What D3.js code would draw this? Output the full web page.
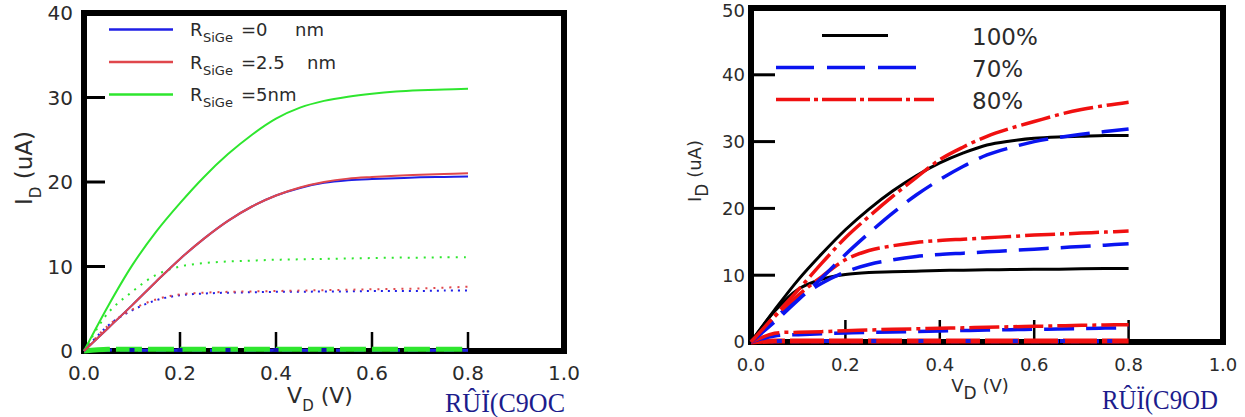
<!DOCTYPE html>
<html>
<head>
<meta charset="utf-8">
<script src="https://cdn.jsdelivr.net/npm/d3@7"></script>
<style>
  body { margin: 0; background: #fff; }
  svg { display: block; font-family: "DejaVu Sans", sans-serif; }
</style>
</head>
<body>
<div class="container"></div>
<script>
// drain voltage grid (V)
const vd = [0, 0.05, 0.1, 0.15, 0.2, 0.25, 0.3, 0.35, 0.4, 0.45, 0.5, 0.55, 0.6, 0.65, 0.7, 0.75, 0.8];
const xTicks = [0.0, 0.2, 0.4, 0.6, 0.8, 1.0];

// left panel: R_SiGe sweep (uA)
const leftLegend = [
  { name: "=0", unit: "nm", color: "#1f1fe6" },
  { name: "=2.5", unit: "nm", color: "#e0474c" },
  { name: "=5nm", unit: "", color: "#2ee62e" },
];
const blueSolid = [0, 2.7, 5.4, 8.2, 10.9, 13.3, 15.4, 17.1, 18.4, 19.3, 19.9, 20.2, 20.35, 20.45, 20.55, 20.6, 20.65];
const redSolid = [0, 2.7, 5.4, 8.2, 10.9, 13.3, 15.4, 17.1, 18.4, 19.35, 20.0, 20.4, 20.6, 20.75, 20.85, 20.95, 21.05];
const greenSolid = [0, 5.3, 10.1, 14.1, 17.5, 20.6, 23.3, 25.6, 27.5, 28.8, 29.6, 30.1, 30.45, 30.7, 30.85, 30.95, 31.05];
const greenDot = [0, 4.5, 7.0, 9.0, 10.0, 10.4, 10.6, 10.7, 10.8, 10.85, 10.9, 10.95, 11.0, 11.05, 11.05, 11.1, 11.1];
const blueDot = [0, 3.0, 4.8, 6.0, 6.6, 6.8, 6.9, 6.95, 7.0, 7.0, 7.05, 7.05, 7.1, 7.1, 7.1, 7.15, 7.15];
const redDot = [0, 3.0, 4.9, 6.1, 6.7, 6.9, 7.0, 7.05, 7.1, 7.15, 7.2, 7.25, 7.3, 7.35, 7.4, 7.5, 7.6];
const blackBaseL = [0, 0.05, 0.05, 0.05, 0.05, 0.05, 0.05, 0.05, 0.05, 0.05, 0.05, 0.05, 0.05, 0.05, 0.05, 0.05, 0.05];
const blueBaseL = [0, 0.1, 0.1, 0.1, 0.1, 0.1, 0.1, 0.1, 0.1, 0.1, 0.1, 0.1, 0.1, 0.1, 0.1, 0.1, 0.1];
const greenBaseL = [0, 0.2, 0.2, 0.2, 0.2, 0.2, 0.2, 0.2, 0.2, 0.2, 0.2, 0.2, 0.2, 0.2, 0.2, 0.2, 0.2];
const leftYTicks = [0, 10, 20, 30, 40];

// right panel: percentage sweep (uA)
const rightLegend = ["100%", "70%", "80%"];
const blackUp = [0, 4.8, 9.3, 13.2, 16.8, 19.9, 22.6, 24.9, 26.8, 28.3, 29.5, 30.1, 30.5, 30.7, 30.8, 30.9, 30.9];
const redUp = [0, 3.9, 7.8, 11.8, 15.6, 18.8, 21.8, 24.6, 27.3, 29.2, 30.8, 32.0, 33.0, 34.0, 34.8, 35.4, 35.9];
const blueUp = [0, 3.0, 6.3, 9.6, 13.1, 16.3, 19.3, 22.0, 24.3, 26.3, 28.0, 29.1, 30.0, 30.6, 31.1, 31.5, 31.9];
const blackMid = [0, 4.6, 7.9, 9.4, 10.1, 10.4, 10.5, 10.6, 10.7, 10.75, 10.8, 10.85, 10.9, 10.9, 10.95, 11.0, 11.0];
const blueMid = [0, 3.5, 6.5, 8.8, 10.5, 11.6, 12.3, 12.8, 13.1, 13.3, 13.5, 13.7, 13.9, 14.1, 14.3, 14.5, 14.7];
const redMid = [0, 3.8, 7.0, 9.8, 12.3, 13.7, 14.4, 14.9, 15.2, 15.4, 15.6, 15.8, 16.0, 16.15, 16.3, 16.45, 16.6];
const redLow = [0, 1.3, 1.45, 1.55, 1.7, 1.8, 1.9, 1.98, 2.05, 2.12, 2.2, 2.28, 2.35, 2.42, 2.5, 2.55, 2.6];
const blueLow = [0, 0.9, 1.1, 1.25, 1.35, 1.42, 1.5, 1.58, 1.65, 1.72, 1.8, 1.85, 1.9, 1.95, 2.0, 2.08, 2.15];
const blackBaseR = [0, 0.05, 0.05, 0.05, 0.05, 0.05, 0.05, 0.05, 0.05, 0.05, 0.05, 0.05, 0.05, 0.05, 0.05, 0.05, 0.05];
const blueBaseR = [0, 0.1, 0.1, 0.1, 0.1, 0.1, 0.1, 0.1, 0.1, 0.1, 0.1, 0.1, 0.1, 0.1, 0.1, 0.1, 0.1];
const redBaseR = [0, 0.15, 0.15, 0.15, 0.15, 0.15, 0.15, 0.15, 0.15, 0.15, 0.15, 0.15, 0.15, 0.15, 0.15, 0.15, 0.15];
const rightYTicks = [0, 10, 20, 30, 40, 50];

const width = 1245;
const height = 417;

const svg = d3.select(".container")
  .append("svg")
  .attr("width", width)
  .attr("height", height);

const textColor = "#2b2b2b";

function panel(g, opt) {
  const x = d3.scaleLinear().domain([0, 1]).range([opt.left, opt.right]);
  const y = d3.scaleLinear().domain([0, opt.ymax]).range([opt.bottom, opt.top]);

  //ticks (inward)
  g.append("g")
    .selectAll("line.yt")
    .data(opt.yTicks.slice(1, -1))
    .join("line")
    .attr("x1", x(0))
    .attr("x2", x(0) + opt.tickLen)
    .attr("y1", (d) => y(d))
    .attr("y2", (d) => y(d))
    .attr("stroke", "#000")
    .attr("stroke-width", 3);

  g.append("g")
    .selectAll("line.xt")
    .data(xTicks.slice(1, -1))
    .join("line")
    .attr("x1", (d) => x(d))
    .attr("x2", (d) => x(d))
    .attr("y1", y(0))
    .attr("y2", y(0) - opt.tickLen + 2)
    .attr("stroke", "#000")
    .attr("stroke-width", 2.5);

  //frame
  g.append("rect")
    .attr("x", x(0))
    .attr("y", y(opt.ymax))
    .attr("width", x(1) - x(0))
    .attr("height", y(0) - y(opt.ymax))
    .attr("fill", "none")
    .attr("stroke", "#000")
    .attr("stroke-width", 6);

  //tick labels
  g.append("g")
    .selectAll("text")
    .data(xTicks)
    .join("text")
    .attr("x", (d) => x(d))
    .attr("y", opt.xLabelY)
    .attr("text-anchor", "middle")
    .attr("font-size", opt.tickFont)
    .attr("fill", textColor)
    .text((d) => d.toFixed(1));

  g.append("g")
    .selectAll("text")
    .data(opt.yTicks)
    .join("text")
    .attr("x", opt.yLabelX)
    .attr("y", (d) => Math.max(y(d), 11))
    .attr("dy", "0.36em")
    .attr("text-anchor", "end")
    .attr("font-size", opt.tickFont)
    .attr("fill", textColor)
    .text((d) => d);

  //curves
  const line = d3.line()
    .x((d, i) => x(vd[i]))
    .y((d) => y(d))
    .curve(d3.curveCatmullRom.alpha(0.5));

  g.append("g")
    .selectAll("path")
    .data(opt.series)
    .join("path")
    .attr("d", (d) => line(d.values))
    .attr("fill", "none")
    .attr("stroke", (d) => d.color)
    .attr("stroke-width", (d) => d.width)
    .attr("stroke-dasharray", (d) => d.dash || null);

  return { x, y };
}

function markers(g, sc, values, color) {
  g.append("g")
    .selectAll("rect")
    .data(values)
    .join("rect")
    .attr("x", (d) => sc.x(d) - 2.5)
    .attr("y", sc.y(0) - 3)
    .attr("width", 5)
    .attr("height", 4)
    .attr("fill", color);
}

// ---------- left panel ----------
const gl = svg.append("g");
const bl = "#1f1fe6", rl = "#e0474c", grl = "#2ee62e";
const scL = panel(gl, {
  left: 84, right: 564, top: 13, bottom: 351, ymax: 40,
  yTicks: leftYTicks, tickLen: 21, tickFont: 20,
  xLabelY: 380, yLabelX: 73,
  series: [
    { values: blackBaseL, color: "#222", width: 3, dash: "8,10" },
    { values: blueBaseL, color: bl, width: 3, dash: "10,8" },
    { values: greenBaseL, color: grl, width: 5, dash: "26,6" },
    { values: greenDot, color: grl, width: 2, dash: "2,6" },
    { values: blueDot, color: bl, width: 2, dash: "2,5" },
    { values: redDot, color: rl, width: 2, dash: "2,6" },
    { values: greenSolid, color: grl, width: 2 },
    { values: blueSolid, color: bl, width: 2 },
    { values: redSolid, color: rl, width: 2 },
  ],
});
markers(gl, scL, [0.1, 0.2, 0.3, 0.4, 0.5], "#1212b0");

// legend left
const legL = gl.append("g");
leftLegend.forEach((d, i) => {
  const ly = 29.5 + i * 32.5;
  legL.append("line")
    .attr("x1", 109).attr("x2", 173)
    .attr("y1", ly).attr("y2", ly)
    .attr("stroke", d.color).attr("stroke-width", 2.5);
  const t = legL.append("text")
    .attr("x", 190).attr("y", ly + 6.5)
    .attr("font-size", 18).attr("fill", textColor);
  t.append("tspan").text("R");
  t.append("tspan").attr("font-size", 13).attr("dy", 6).attr("x", 203).text("SiGe");
  t.append("tspan").attr("dy", -6).attr("x", 241).text(d.name);
  if (d.unit) {
    t.append("tspan").attr("x", i === 0 ? 295 : 307).text(d.unit);
  }
});

// axis titles left
const xtl = gl.append("text")
  .attr("x", 320).attr("y", 403)
  .attr("text-anchor", "middle")
  .attr("font-size", 22).attr("fill", textColor);
xtl.append("tspan").text("V");
xtl.append("tspan").attr("font-size", 15).attr("dy", 8).text("D");
xtl.append("tspan").attr("dy", -8).text(" (V)");

const ytl = gl.append("text")
  .attr("transform", "translate(32,168) rotate(-90)")
  .attr("text-anchor", "middle")
  .attr("font-size", 23).attr("fill", textColor);
ytl.append("tspan").text("I");
ytl.append("tspan").attr("font-size", 15).attr("dy", 9).text("D");
ytl.append("tspan").attr("dy", -9).text(" (uA)");

gl.append("text")
  .attr("x", 445).attr("y", 412)
  .attr("font-family", "Liberation Serif, serif")
  .attr("font-size", 27)
  .attr("fill", "#1c1c8c")
  .attr("textLength", 120)
  .attr("lengthAdjust", "spacingAndGlyphs")
  .text("RÛÏ(C9OC");

// ---------- right panel ----------
const gr = svg.append("g");
const br = "#0a14f0", rr = "#f01010", kr = "#000";
const dashB = "30,12";
const dashR = "30,5,4,5";
const scR = panel(gr, {
  left: 751, right: 1223, top: 8, bottom: 342, ymax: 50,
  yTicks: rightYTicks, tickLen: 24, tickFont: 18,
  xLabelY: 371, yLabelX: 745,
  series: [
    { values: blackBaseR, color: kr, width: 3, dash: "10,10" },
    { values: blueBaseR, color: br, width: 4, dash: "8,12" },
    { values: redBaseR, color: rr, width: 5, dash: "34,5" },
    { values: blueLow, color: br, width: 3.5, dash: dashB },
    { values: redLow, color: rr, width: 3.5, dash: dashR },
    { values: blackMid, color: kr, width: 3 },
    { values: blueMid, color: br, width: 3.5, dash: dashB },
    { values: redMid, color: rr, width: 3.5, dash: dashR },
    { values: blackUp, color: kr, width: 3 },
    { values: blueUp, color: br, width: 3.5, dash: dashB },
    { values: redUp, color: rr, width: 3.5, dash: dashR },
  ],
});
markers(gr, scR, [0.06, 0.16, 0.26, 0.36, 0.46, 0.56, 0.66, 0.76], "#1a1ae0");

// legend right
const legR = gr.append("g");
const legStyles = [
  { x1: 822, x2: 888, color: kr, dash: null, width: 3 },
  { x1: 776, x2: 918, color: br, dash: "38,13", width: 3.5 },
  { x1: 776, x2: 934, color: rr, dash: "34,4,4,4", width: 3.5 },
];
rightLegend.forEach((d, i) => {
  const ly = 35.5 + i * 32;
  const s = legStyles[i];
  legR.append("line")
    .attr("x1", s.x1).attr("x2", s.x2)
    .attr("y1", ly).attr("y2", ly)
    .attr("stroke", s.color)
    .attr("stroke-width", s.width)
    .attr("stroke-dasharray", s.dash);
  legR.append("text")
    .attr("x", 972).attr("y", ly + 9)
    .attr("font-size", 23).attr("fill", textColor)
    .text(d);
});

// axis titles right
const xtr = gr.append("text")
  .attr("x", 980).attr("y", 392)
  .attr("text-anchor", "middle")
  .attr("font-size", 18).attr("fill", textColor);
xtr.append("tspan").text("V");
xtr.append("tspan").attr("font-size", 17).attr("dy", 7).text("D");
xtr.append("tspan").attr("dy", -7).text(" (V)");

const ytr = gr.append("text")
  .attr("transform", "translate(701,171) rotate(-90)")
  .attr("text-anchor", "middle")
  .attr("font-size", 18).attr("fill", textColor);
ytr.append("tspan").text("I");
ytr.append("tspan").attr("font-size", 17).attr("dy", 7).text("D");
ytr.append("tspan").attr("dy", -7).text(" (uA)");

gr.append("text")
  .attr("x", 1102).attr("y", 409)
  .attr("font-family", "Liberation Serif, serif")
  .attr("font-size", 28)
  .attr("fill", "#1c1c8c")
  .attr("textLength", 116)
  .attr("lengthAdjust", "spacingAndGlyphs")
  .text("RÛÏ(C9OD");
</script>
</body>
</html>
